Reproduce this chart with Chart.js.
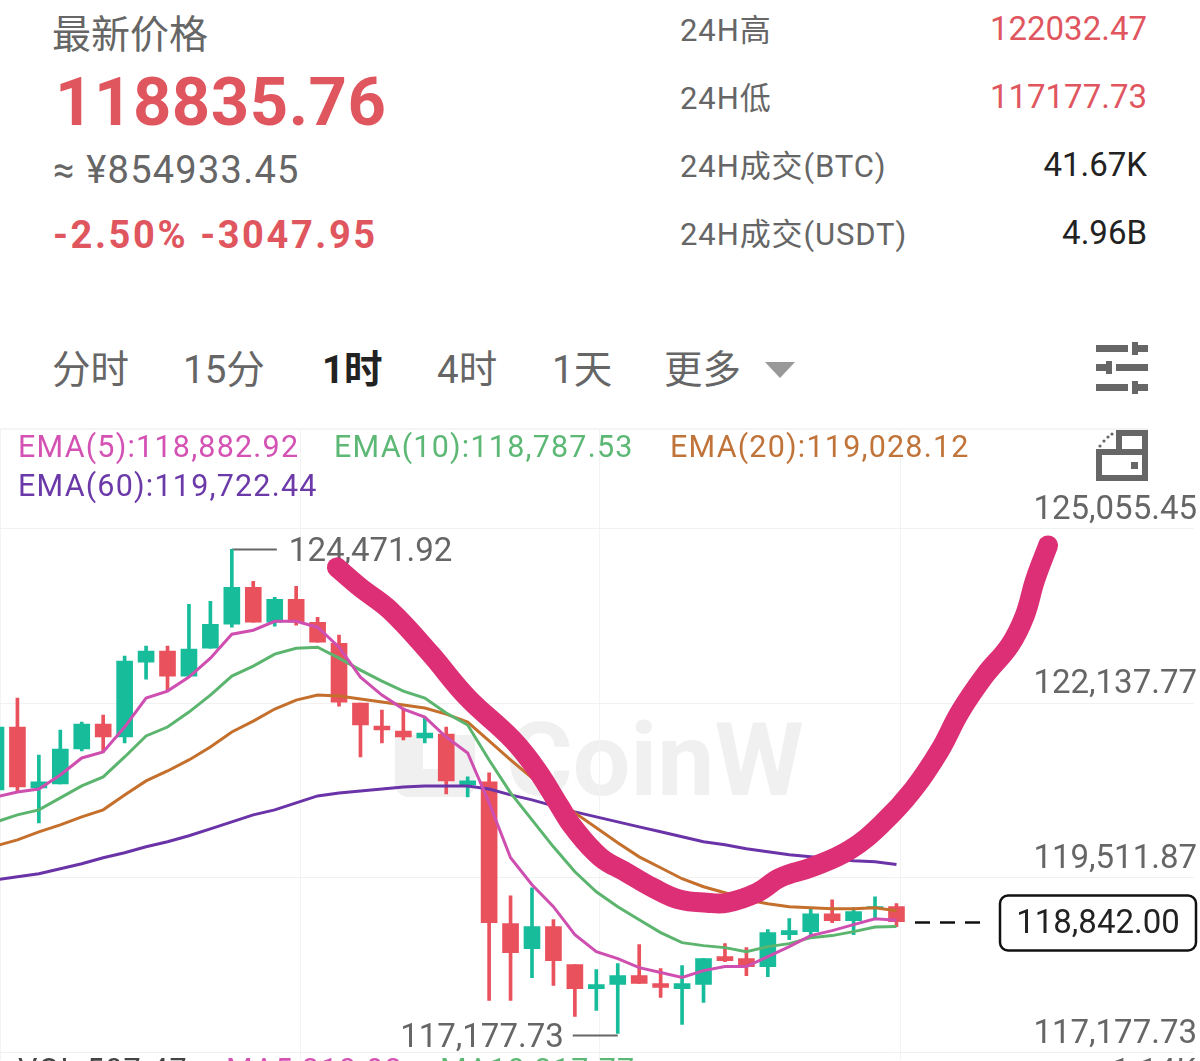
<!DOCTYPE html>
<html lang="zh">
<head>
<meta charset="utf-8">
<title>BTC 1时</title>
<script src="https://cdn.jsdelivr.net/npm/chart.js@4"></script>
<style>
   html, body { margin: 0; padding: 0; background: #fff; width: 1200px; height: 1061px; overflow: hidden; }
   body { position: relative; font-family: Roboto, "Noto Sans CJK SC", sans-serif; color: #666; }
   .t { position: absolute; transform: translateY(-50%); white-space: nowrap; line-height: 1; }
   .red { color: #e0565f; }
   .label { font-size: 31px; letter-spacing: 0.9px; }
   .num { font-size: 33px; right: 53px; }
   .tab { font-size: 38.5px; top: 370px; }
   .ema { font-size: 30.5px; letter-spacing: 1.2px; }
   #watermark { position: absolute; left: 506px; top: 760px; transform: translateY(-50%); font: bold 102px Roboto, sans-serif; color: #f0f0f0; line-height: 1; }
   #logo { position: absolute; left: 395px; top: 735px; width: 80px; height: 62px; box-sizing: border-box; border: 28px solid #f0f0f0; border-top: 0; border-radius: 0 0 14px 14px; }
   #topline { position: absolute; left: 0; top: 428px; width: 1148px; height: 2px; background: #f4f4f4; }
   #chart { position: absolute; left: 0; top: 406px; }
   #arrow { position: absolute; left: 765px; top: 362px; width: 0; height: 0; border-left: 15px solid transparent; border-right: 15px solid transparent; border-top: 16px solid #999; }
   svg { position: absolute; left: 0; top: 0; }
   .vol { position: absolute; top: 1055px; font-size: 30.5px; line-height: 1; white-space: nowrap; letter-spacing: 1.2px; }
</style>
</head>
<body>
   <div class="t" style="left:52px;top:35px;font-size:39px">最新价格</div>
   <div class="t red" style="left:55px;top:102px;font-size:67px;font-weight:700;letter-spacing:0.5px">118835.76</div>
   <div class="t" style="left:53px;top:170px;font-size:38px;letter-spacing:1.25px">≈ ¥854933.45</div>
   <div class="t red" style="left:53px;top:235px;font-size:38px;font-weight:700;letter-spacing:2.6px">-2.50% -3047.95</div>

   <div class="t label" style="left:680px;top:30px">24H高</div>
   <div class="t label" style="left:680px;top:98px">24H低</div>
   <div class="t label" style="left:680px;top:166px">24H成交(BTC)</div>
   <div class="t label" style="left:680px;top:234px">24H成交(USDT)</div>
   <div class="t num red" style="top:28px">122032.47</div>
   <div class="t num red" style="top:96px">117177.73</div>
   <div class="t num" style="top:164px;color:#222">41.67K</div>
   <div class="t num" style="top:232px;color:#222">4.96B</div>

   <div class="t tab" style="left:52px">分时</div>
   <div class="t tab" style="left:183px">15分</div>
   <div class="t tab" style="left:322px;font-weight:700;color:#222">1时</div>
   <div class="t tab" style="left:437px">4时</div>
   <div class="t tab" style="left:552px">1天</div>
   <div class="t tab" style="left:664px">更多</div>
   <div id="arrow"></div>

   <svg width="1200" height="500" fill="#666">
      <rect x="1096" y="345" width="32" height="7"/><rect x="1132" y="342" width="6" height="13"/><rect x="1138" y="345" width="10" height="7"/>
      <rect x="1096" y="364" width="10" height="7"/><rect x="1106" y="361" width="6" height="13"/><rect x="1116" y="364" width="32" height="7"/>
      <rect x="1096" y="384" width="32" height="7"/><rect x="1132" y="381" width="6" height="13"/><rect x="1138" y="384" width="10" height="7"/>
   </svg>

   <div id="logo"></div>
   <div id="watermark">CoinW</div>
   <div id="topline"></div>

   <canvas id="chart" width="1200" height="677"></canvas>

   <svg width="1200" height="500" fill="#666">
      <path fill-rule="evenodd" d="M1116 430h32v51h-52v-32h20zM1122 436v13h20v-13zM1102 455v20h40v-20z"/>
      <rect x="1131" y="462" width="7" height="7"/>
      <circle cx="1100" cy="446" r="1.6"/><circle cx="1104" cy="441" r="1.6"/><circle cx="1108" cy="437" r="1.6"/><circle cx="1112" cy="434" r="1.6"/>
   </svg>

   <div class="t ema" style="left:18px;top:447px;color:#d452b4">EMA(5):118,882.92</div>
   <div class="t ema" style="left:334px;top:447px;color:#5cb874">EMA(10):118,787.53</div>
   <div class="t ema" style="left:670px;top:447px;color:#c0743a">EMA(20):119,028.12</div>
   <div class="t ema" style="left:18px;top:486px;color:#6b3aa8">EMA(60):119,722.44</div>

   <div class="vol" style="left:18px;color:#444">VOL:507.47</div>
   <div class="vol" style="left:226px;color:#d452b4">MA5:310.93</div>
   <div class="vol" style="left:440px;color:#5cb874">MA10:317.77</div>
   <div class="vol" style="right:3px">1.14K</div>

<script>
// one entry per candle, oldest first
const candles = [0,1,2,3,4,5,6,7,8,9,10,11,12,13,14,15,16,17,18,19,20,21,22,23,24,25,26,27,28,29,30,31,32,33,34,35,36,37,38,39,40,41,42];

const opens = [120847,121795,120877,120938,121464,121840,121645,122773,122938,122562,122983,123344,123901,123374,123720,123374,123058,122156,121810,121735,121630,121690,120923,120968,118832,118456,118787,118215,117854,117915,118050,117930,117854,117915,118336,118306,118185,118667,118712,118982,118877,119058,119088];
const closes = [121795,120893,120968,121464,121840,121645,122788,122938,122562,122968,123344,123901,123374,123720,123374,123073,122171,121825,121750,121645,121705,120983,120983,118847,118396,118787,118276,117854,117915,118050,117930,117870,117930,118306,118276,118185,118697,118727,118982,118877,119013,119088,118862];
const highs = [121795,122231,121374,121750,121870,121975,122863,123013,123013,123645,123690,124471.92,123991,123750,123916,123449,123179,122156,122051,122081,121945,121795,121043,121103,119253,119373,118892,118215,118140,118230,118516,118155,118200,118306,118531,118471,118742,118907,119073,119193,119073,119238,119133];
const lows = [120351,120817,120351,120938,121434,121419,121554,122517,122351,122562,122983,123299,123374,123314,123329,123073,122111,121344,121554,121599,121554,120787,120742,117674,117674,118020,117900,117433,117524,117177.73,117930,117719,117313,117644,118261,118050,118035,118591,118637,118847,118667,118922,118787];

const ema5 = [120742,120817,120862,121073,121329,121419,121795,122231,122336,122547,122833,123194,123254,123389,123389,123299,122998,122547,122276,122066,121945,121645,121404,120652,119825,119419,119088,118667,118411,118306,118170,118095,118020,118125,118185,118185,118336,118486,118652,118727,118817,118907,118882.92];
const ema10 = [120366,120471,120547,120727,120908,121043,121344,121660,121795,122020,122276,122562,122712,122893,122983,122998,122833,122652,122487,122336,122231,122005,121825,121299,120802,120396,119990,119614,119313,119088,118892,118697,118546,118501,118471,118411,118486,118531,118621,118652,118712,118780,118787.53];
const ema20 = [120005,120095,120216,120321,120441,120547,120772,120983,121133,121299,121494,121720,121885,122066,122201,122276,122261,122216,122171,122126,122081,121990,121870,121585,121299,121028,120772,120501,120276,120050,119839,119674,119509,119388,119298,119193,119133,119088,119073,119058,119058,119073,119028.12];
const ema60 = [119494,119539,119584,119659,119734,119825,119900,119990,120066,120156,120261,120366,120471,120547,120652,120757,120802,120832,120862,120893,120908,120908,120908,120862,120772,120697,120607,120517,120441,120366,120291,120216,120141,120066,120020,119960,119915,119870,119840,119810,119780,119765,119722.44];

// the hand drawn arrow on top of the chart
const strokeX = [15.90,16.98,18.38,20.24,21.97,24.11,25.23,26.31,26.91,28.17,29.43,30.64,31.90,33.16,34.10,35.49,36.57,38.11,39.83,41.37,42.77,44.03,44.96,46.13,47.29,47.99,48.46,49.07];
const strokeY = [124201,123901,123555,122908,122246,121600,121148,120592,120291,119840,119599,119373,119193,119148,119148,119298,119524,119689,119945,120351,120847,121449,122020,122577,123028,123479,124005,124531];

const yTickValues = [124788,122156,119524,116892];
const yTickLabels = ['125,055.45','122,137.77','119,511.87','117,177.73'];
const xGridValues = [0.187,14.18,28.17,42.17];

const highPrice = 124471.92;
const lowPrice = 117177.73;
const lastPrice = 118842;

const UP = '#17bd9b';
const DOWN = '#e9515c';
const candleColors = opens.map((o, i) => closes[i] >= o ? UP : DOWN);

const priceMarks = {
   id: 'priceMarks',
   beforeDatasetsDraw(chart) {
      const { ctx, scales: { x, y } } = chart;
      ctx.save();
      ctx.font = '33px Roboto';
      ctx.textBaseline = 'middle';

      // highest price
      const hy = y.getPixelForValue(highPrice);
      const hx = x.getPixelForValue(candles[highs.indexOf(highPrice)]);
      ctx.strokeStyle = '#666';
      ctx.fillStyle = '#666';
      ctx.lineWidth = 2;
      ctx.beginPath();
      ctx.moveTo(hx, hy);
      ctx.lineTo(hx + 45, hy);
      ctx.stroke();
      ctx.fillText('124,471.92', hx + 57, hy + 3);

      // lowest price
      const ly = y.getPixelForValue(lowPrice) + 2;
      const lx = x.getPixelForValue(candles[lows.indexOf(lowPrice)]);
      ctx.beginPath();
      ctx.moveTo(lx, ly);
      ctx.lineTo(lx - 45, ly);
      ctx.stroke();
      ctx.textAlign = 'right';
      ctx.fillText('117,177.73', lx - 54, ly + 3);

      // last price tag
      const py = y.getPixelForValue(lastPrice) - 0.5;
      ctx.strokeStyle = '#111';
      ctx.lineWidth = 2.5;
      ctx.setLineDash([15, 10]);
      ctx.beginPath();
      ctx.moveTo(915, py);
      ctx.lineTo(982, py);
      ctx.stroke();
      ctx.setLineDash([]);
      ctx.beginPath();
      ctx.roundRect(1000, py - 27, 196, 55, 8);
      ctx.fillStyle = '#fff';
      ctx.fill();
      ctx.stroke();
      ctx.fillStyle = '#222';
      ctx.textAlign = 'center';
      ctx.fillText('118,842.00', 1098, py + 2);
      ctx.restore();
   }
};

const emaLine = (label, values, color, width, order) => ({
   type: 'line',
   label,
   data: candles.map((c, i) => ({ x: c, y: values[i] })),
   borderColor: color,
   borderWidth: width,
   pointRadius: 0,
   tension: 0,
   order
});

new Chart(document.getElementById('chart'), {
   type: 'bar',
   data: {
      datasets: [
         {
            type: 'line',
            label: 'stroke',
            data: strokeX.map((x, i) => ({ x, y: strokeY[i] })),
            borderColor: '#dd2f76',
            borderWidth: 20,
            borderCapStyle: 'round',
            borderJoinStyle: 'round',
            pointRadius: 0,
            tension: 0.4,
            order: 0
         },
         emaLine('EMA(5)', ema5, '#cf4fb0', 3, 1),
         emaLine('EMA(10)', ema10, '#5cb56e', 3, 2),
         emaLine('EMA(20)', ema20, '#c56f2c', 3, 3),
         emaLine('EMA(60)', ema60, '#6a33a8', 3, 4),
         {
            label: 'body',
            data: candles.map((c, i) => ({ x: c, y: [opens[i], closes[i]] })),
            backgroundColor: candleColors,
            barThickness: 16,
            grouped: false,
            order: 5
         },
         {
            label: 'wick',
            data: candles.map((c, i) => ({ x: c, y: [lows[i], highs[i]] })),
            backgroundColor: candleColors,
            barThickness: 3,
            grouped: false,
            order: 6
         }
      ]
   },
   options: {
      responsive: false,
      animation: false,
      devicePixelRatio: 1,
      layout: { padding: 0 },
      plugins: {
         legend: { display: false },
         tooltip: { enabled: false }
      },
      scales: {
         x: {
            type: 'linear',
            offset: false,
            min: 0.187,
            max: 55.877,
            grid: { offset: false, color: '#f3f3f3', drawTicks: false },
            border: { display: false },
            ticks: { display: false },
            afterBuildTicks: (scale) => { scale.ticks = xGridValues.map(value => ({ value })); }
         },
         y: {
            position: 'right',
            min: 116774.6,
            max: 126288.8,
            grid: { color: '#f1f1f1', drawTicks: false },
            border: { display: false },
            afterBuildTicks: (scale) => { scale.ticks = yTickValues.map(value => ({ value })); },
            ticks: {
               mirror: true,
               autoSkip: false,
               padding: 3,
               labelOffset: -18,
               color: '#666',
               font: { family: 'Roboto', size: 33 },
               callback: (value, index) => yTickLabels[index]
            }
         }
      }
   },
   plugins: [priceMarks]
});
</script>
</body>
</html>
